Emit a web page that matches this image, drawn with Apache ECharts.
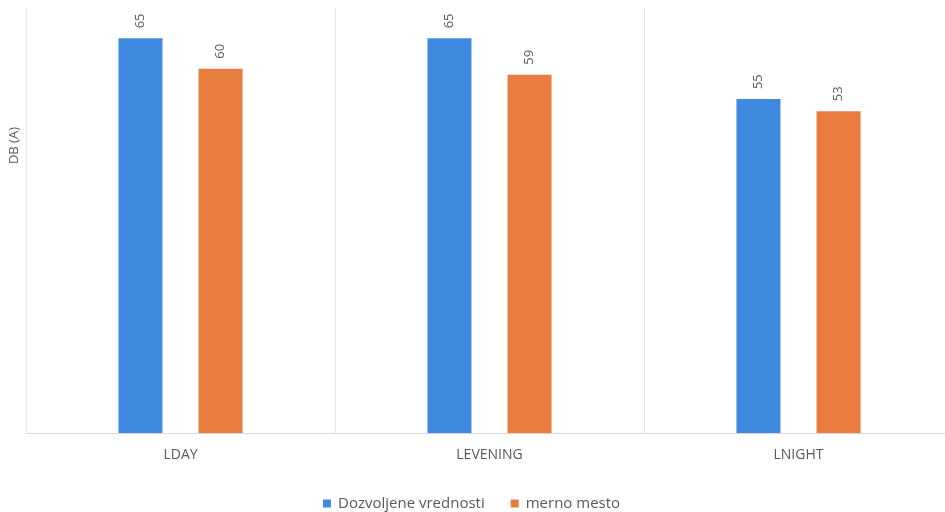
<!DOCTYPE html>
<html>
<head>
<meta charset="utf-8">
<script src="https://cdn.jsdelivr.net/npm/echarts@6/dist/echarts.min.js"></script>
<style>
html,body{margin:0;padding:0;background:#fff;overflow:hidden;width:945px;height:512px;}
#chart{width:953px;height:512px;}
</style>
</head>
<body>
<div id="chart"></div>
<script>
const categories = ['LDAY', 'LEVENING', 'LNIGHT'];
const seriesNames = ['Dozvoljene vrednosti', 'merno mesto'];
const dozvoljene = [65, 65, 55];
const merno = [60, 59, 53];
const yAxisTitle = 'DB (A)';

const chart = echarts.init(document.getElementById('chart'));
const labelCfg = {
  show: true,
  position: 'top',
  rotate: 90,
  align: 'left',
  verticalAlign: 'middle',
  distance: 10,
  color: '#595959',
  fontSize: 13,
  fontFamily: 'Open Sans'
};
chart.setOption({
  animation: false,
  textStyle: { fontFamily: 'Open Sans' },
  grid: { left: 26, right: 0, top: 8, height: 425 },
  legend: {
    top: 491,
    left: 318,
    icon: 'rect',
    itemWidth: 8,
    itemHeight: 8,
    itemGap: 26,
    textStyle: { color: '#595959', fontSize: 15, fontFamily: 'Open Sans', padding: [0, 0, 0, 2] },
    data: seriesNames
  },
  xAxis: {
    type: 'category',
    data: categories,
    axisLine: { lineStyle: { color: '#d9d9d9' } },
    axisTick: { show: false },
    splitLine: { show: true, lineStyle: { color: '#e8e8e8' } },
    axisLabel: { color: '#595959', fontSize: 14, margin: 15, fontFamily: 'Open Sans' }
  },
  yAxis: {
    type: 'value',
    min: 0,
    max: 70,
    axisLabel: { show: false },
    axisLine: { show: false },
    axisTick: { show: false },
    splitLine: { show: false }
  },
  graphic: [{
    type: 'text',
    left: 8,
    top: 127,
    rotation: Math.PI / 2,
    style: { text: yAxisTitle, fill: '#595959', fontSize: 13, fontFamily: 'Open Sans' }
  }],
  series: [
    {
      name: seriesNames[0],
      type: 'bar',
      data: dozvoljene,
      barWidth: 44,
      barGap: '82%',
      itemStyle: { color: '#3f8ae0' },
      label: labelCfg
    },
    {
      name: seriesNames[1],
      type: 'bar',
      data: merno,
      barWidth: 44,
      itemStyle: { color: '#e87c3e' },
      label: labelCfg
    }
  ]
});
</script>
</body>
</html>
